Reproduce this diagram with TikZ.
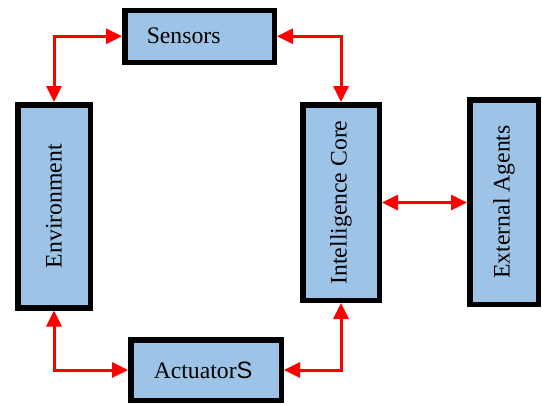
\documentclass[tikz,border=0pt]{standalone}
\usepackage{fontspec}
\setmainfont{Liberation Serif}
\newfontfamily\sansS{Liberation Sans}
\usetikzlibrary{arrows.meta}
\definecolor{boxfill}{RGB}{157,195,230}
\begin{document}
\begin{tikzpicture}[x=1pt,y=-1pt,
  blk/.style={draw=black,line width=5.5pt,fill=boxfill,inner sep=0pt,
    font=\fontsize{23.7}{28}\selectfont},
  arr/.style={draw=red,line width=3pt,{Triangle[length=16pt,width=15pt]}-{Triangle[length=16pt,width=15pt]}}]
\useasboundingbox (0,0) rectangle (542,405);
\node[blk,minimum width=149.5pt,minimum height=52pt,inner xsep=22pt,text width=105.5pt,align=left] (sensors) at (199.5,36.25) {Sensors};
\node[blk,minimum width=72.5pt,minimum height=203pt] (env) at (54,206.25) {\rotatebox{90}{Environment}};
\node[blk,minimum width=150.5pt,minimum height=60.5pt,inner xsep=23pt,text width=104.5pt,align=left] (act) at (206,370) {Actuator{\sansS S}};
\node[blk,minimum width=76.5pt,minimum height=195.5pt] (ic) at (341,202.5) {\rotatebox{90}{Intelligence Core}};
\node[blk,minimum width=68.5pt,minimum height=204.5pt] (ea) at (504,202) {\rotatebox{90}{External Agents}};
\draw[arr] (env.north) |- (sensors.west);
\draw[arr] (sensors.east) -| (ic.north);
\draw[arr] (env.south) |- (act.west);
\draw[arr] (act.east) -| (ic.south);
\draw[arr] (ic.east) -- (ea.west |- ic.east);
\end{tikzpicture}
\end{document}
